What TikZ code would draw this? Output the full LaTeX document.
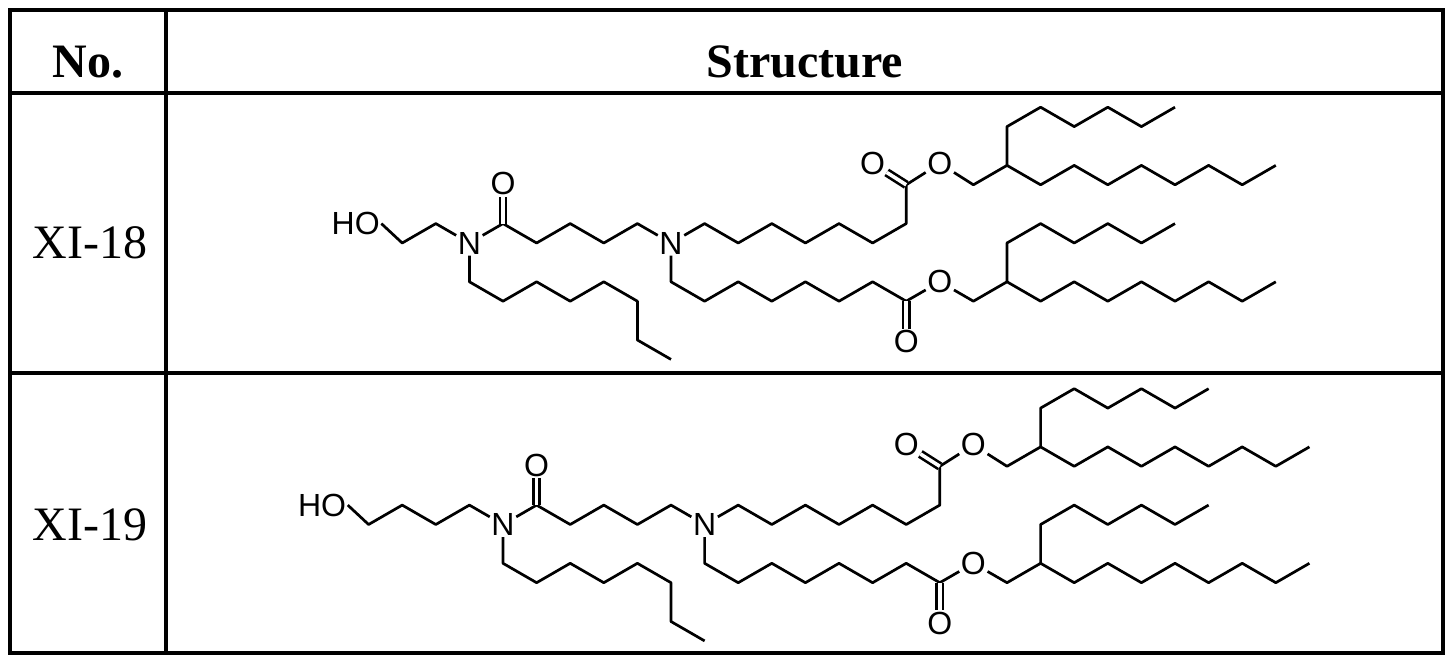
\documentclass[tikz,border=0pt]{standalone}
\usepackage{fontspec}
\setmainfont{Liberation Serif}
\newfontfamily\afont{Liberation Sans}
\tikzset{
  atom/.style={font=\afont\fontsize{32}{32}\selectfont, inner sep=1.5pt},
  bond/.style={line width=2.7pt, line join=round},
  dbond/.style={line width=2.6pt, double, double distance=3.6pt},
  grid/.style={line width=3.4pt},
  head/.style={font=\bfseries\fontsize{48}{48}\selectfont},
  lbl/.style={font=\fontsize{48}{48}\selectfont}
}
\newcommand\core[1]{%
\node[atom] (#1n2) at (0,0) {N};
\node[atom] (#1n1) at (-6,0) {N};
\node[atom] (#1oa) at (-5,-3.05) {O};
\node[atom] (#1o1) at (6,-4.1) {O};
\node[atom] (#1o2) at (8,-4.1) {O};
\node[atom] (#1o3) at (7,5.1) {O};
\node[atom] (#1o4) at (8,2) {O};
\coordinate (#1ca) at (-5,-1);
\coordinate (#1c1) at (7,-3);
\coordinate (#1c2) at (7,3);
\coordinate (#1ch1) at (10,-4);
\coordinate (#1ch2) at (10,2);
\draw[bond] (#1n1) -- (#1ca) -- (-4,0) -- (-3,-1) -- (-2,0) -- (-1,-1) -- (#1n2);
\draw[dbond] (#1ca) -- (#1oa);
\draw[bond] (#1n1) -- (-6,2) -- (-5,3) -- (-4,2) -- (-3,3) -- (-2,2) -- (-1,3) -- (-1,5) -- (0,6);
\draw[bond] (#1n2) -- (1,-1) -- (2,0) -- (3,-1) -- (4,0) -- (5,-1) -- (6,0) -- (7,-1) -- (#1c1) -- (#1o2);
\draw[bond] (#1o2) -- (9,-3) -- (#1ch1) -- (11,-3) -- (12,-4) -- (13,-3) -- (14,-4) -- (15,-3) -- (16,-4) -- (17,-3) -- (18,-4);
\draw[bond] (#1ch1) -- (10,-6) -- (11,-7) -- (12,-6) -- (13,-7) -- (14,-6) -- (15,-7);
\draw[dbond] (#1c1) -- (#1o1);
\draw[bond] (#1n2) -- (0,2) -- (1,3) -- (2,2) -- (3,3) -- (4,2) -- (5,3) -- (6,2) -- (#1c2) -- (#1o4);
\draw[bond] (#1o4) -- (9,3) -- (#1ch2) -- (11,3) -- (12,2) -- (13,3) -- (14,2) -- (15,3) -- (16,2) -- (17,3) -- (18,2);
\draw[bond] (#1ch2) -- (10,0) -- (11,-1) -- (12,0) -- (13,-1) -- (14,0) -- (15,-1);
\draw[dbond] (#1c2) -- (#1o3);
}
\begin{document}
\begin{tikzpicture}[x=1pt,y=-1pt]
\useasboundingbox (0,0) rectangle (1453,663);
\fill[white] (0,0) rectangle (1453,663);
\draw[grid] (10,10) rectangle (1443,653);
\draw[grid] (10,93) -- (1443,93);
\draw[grid] (10,373) -- (1443,373);
\draw[grid] (166,10) -- (166,653);
\node[head] (hno) at (88,62) {No.};
\node[head] (hst) at (805,62) {Structure};
\node[lbl] (l18) at (90,243) {XI-18};
\node[lbl] (l19) at (90,525) {XI-19};
\begin{scope}[shift={(671,243)}]
\begin{scope}[x=33.6pt,y=-19.4pt]
\core{a}
\node[atom,anchor=east] (aho) at (-8.62,-1) {HO};
\draw[bond] (aho.east) -- (-8,0) -- (-7,-1) -- (an1);
\end{scope}
\end{scope}
\begin{scope}[shift={(704.6,524.5)}]
\begin{scope}[x=33.6pt,y=-19.4pt]
\core{b}
\node[atom,anchor=east] (bho) at (-10.62,-1) {HO};
\draw[bond] (bho.east) -- (-10,0) -- (-9,-1) -- (-8,0) -- (-7,-1) -- (bn1);
\end{scope}
\end{scope}
\end{tikzpicture}
\end{document}
